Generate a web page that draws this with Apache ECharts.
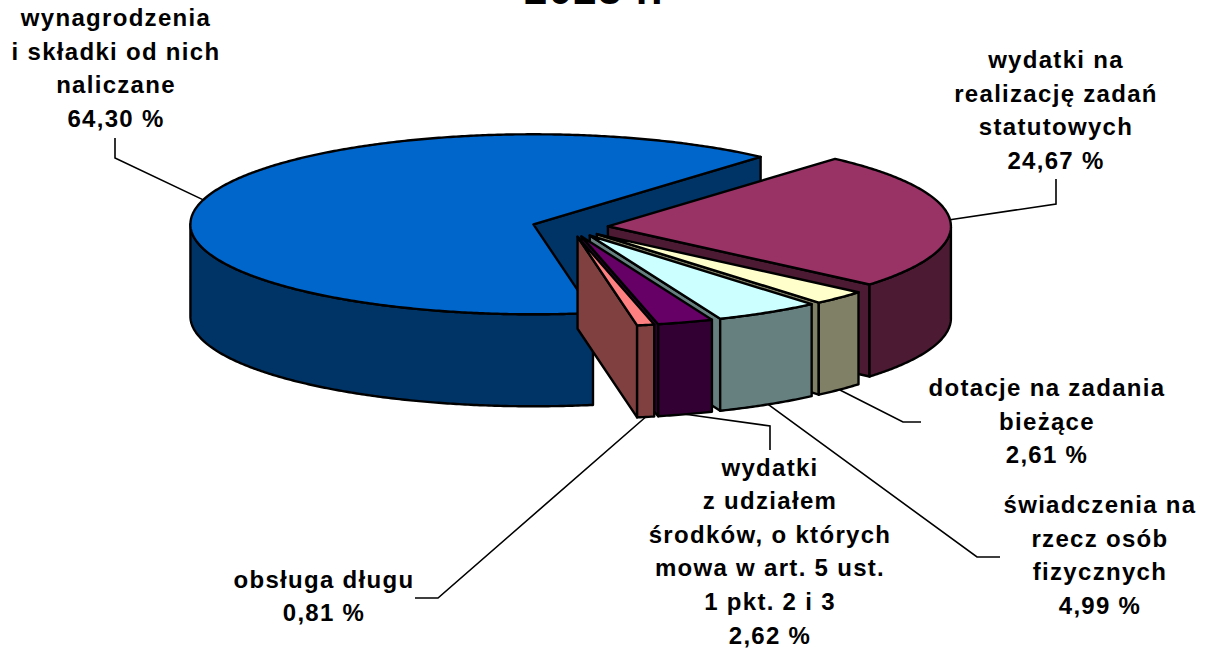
<!DOCTYPE html>
<html>
<head>
<meta charset="utf-8">
<style>
  html, body { margin: 0; padding: 0; background: #fff; }
  #chart { width: 1207px; height: 649px; }
  #chart text { letter-spacing: 1.3px; }
</style>
<script src="https://cdn.jsdelivr.net/npm/echarts@6/dist/echarts.min.js"></script>
</head>
<body>
<div id="chart"></div>
<script>
// clockwise from the point where the first slice starts
const categories = [
  'wynagrodzenia\ni składki od nich\nnaliczane',
  'wydatki na\nrealizację zadań\nstatutowych',
  'dotacje na zadania\nbieżące',
  'świadczenia na\nrzecz osób\nfizycznych',
  'wydatki\nz udziałem\nśrodków, o których\nmowa w art. 5 ust.\n1 pkt. 2 i 3',
  'obsługa długu'
]
const values = [64.30, 24.67, 2.61, 4.99, 2.62, 0.81]
const topColors = ['#0066cc', '#993366', '#ffffcc', '#ccffff', '#660066', '#ff8080']
const wallColors = ['#003366', '#4d1a33', '#808066', '#668080', '#330033', '#804040']

// 3d projection of the pie
const CX = 570
const CY = 227
const RX = 343
const RY = 90
const DEPTH = 92
const EXPLODE = 38
const START_ANGLE = 280

// label centres and leader elbows, in page pixels
const labelCenters = [[116, 68], [1056, 110], [1047, 421], [1100, 555], [770, 551], [324, 596]]
const leaderBends = [
  [[115, 158], [115, 138]],
  [[1056, 204], [1056, 179]],
  [[903, 422], [921, 422]],
  [[977, 557], [1000, 557]],
  [[770, 426], [770, 450]],
  [[438, 598], [415, 598]]
]

const total = values.reduce((a, b) => a + b, 0)
const rad = (d) => d * Math.PI / 180

function renderSlice(params, api) {
  const i = params.dataIndex
  const before = values.slice(0, i).reduce((a, b) => a + b, 0)
  const a0 = START_ANGLE - before / total * 360
  const a1 = a0 - api.value(0) / total * 360
  const mid = (a0 + a1) / 2

  const ax = CX + EXPLODE * Math.cos(rad(mid))
  const ay = CY - EXPLODE * (RY / RX) * Math.sin(rad(mid))
  const rim = (a, drop) => [
    ax + RX * Math.cos(rad(a)),
    ay - RY * Math.sin(rad(a)) + (drop || 0)
  ]

  const arc = []
  const steps = Math.max(2, Math.ceil((a0 - a1) * 2))
  for (let s = 0; s <= steps; s++) arc.push(a0 + (a1 - a0) * s / steps)

  const edge = { stroke: '#000', lineWidth: 2.4, lineJoin: 'round' }
  const children = []

  // radial wall on the clockwise side
  children.push({
    type: 'polygon',
    shape: { points: [[ax, ay], rim(a1), rim(a1, DEPTH), [ax, ay + DEPTH]] },
    style: { fill: wallColors[i], ...edge }
  })

  // outer wall, only the part turned to the viewer
  const front = arc.filter((a) => Math.sin(rad(a)) <= 0.0001)
  if (front.length > 1) {
    children.push({
      type: 'polygon',
      shape: {
        points: front.map((a) => rim(a)).concat(front.slice().reverse().map((a) => rim(a, DEPTH)))
      },
      style: { fill: wallColors[i], ...edge }
    })
  }

  // top face
  children.push({
    type: 'polygon',
    shape: { points: [[ax, ay]].concat(arc.map((a) => rim(a))) },
    style: { fill: topColors[i], ...edge }
  })

  // leader line from the rim at the middle of the slice
  const onFront = Math.sin(rad(mid)) < 0
  children.push({
    type: 'polyline',
    z2: 5,
    shape: { points: [rim(mid, onFront ? DEPTH : 0)].concat(leaderBends[i]) },
    style: { fill: 'none', stroke: '#000', lineWidth: 1.6 }
  })

  const valueText = api.value(0).toFixed(2).replace('.', ',') + ' %'
  children.push({
    type: 'text',
    z2: 6,
    style: {
      text: categories[i] + '\n' + valueText,
      x: labelCenters[i][0],
      y: labelCenters[i][1],
      align: 'center',
      verticalAlign: 'middle',
      fill: '#000',
      font: 'bold 24px "Liberation Sans", Arial, sans-serif',
      lineHeight: 33.6
    }
  })

  return { type: 'group', children }
}

const chart = echarts.init(document.getElementById('chart'), null, { renderer: 'svg' })
chart.setOption({
  backgroundColor: '#fff',
  animation: false,
  title: {
    text: '2023 r.',
    left: 589,
    top: -37,
    textAlign: 'center',
    textStyle: {
      color: '#000',
      fontFamily: '"Liberation Sans", Arial, sans-serif',
      fontWeight: 'bold',
      fontSize: 42
    }
  },
  series: [
    {
      type: 'custom',
      coordinateSystem: 'none',
      silent: true,
      clip: false,
      renderItem: renderSlice,
      data: values.map((v, i) => ({ value: [v], name: categories[i] }))
    }
  ]
})
</script>
</body>
</html>
